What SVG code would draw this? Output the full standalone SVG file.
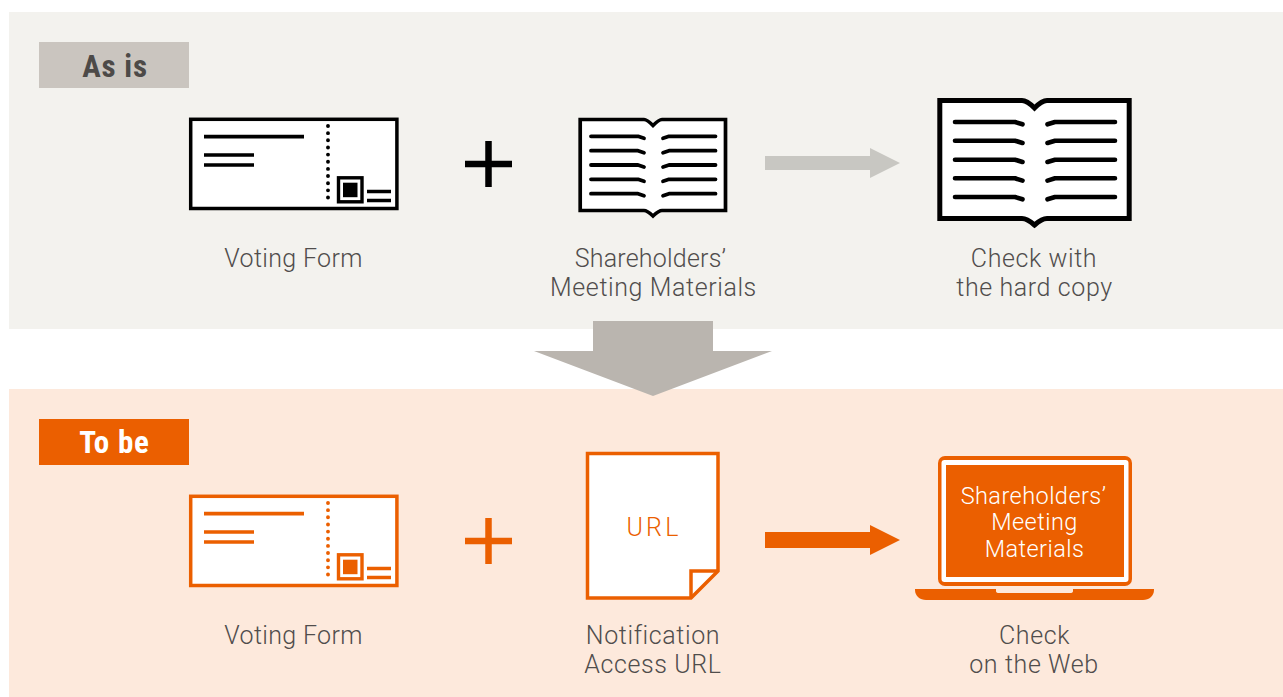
<svg xmlns="http://www.w3.org/2000/svg" width="1283" height="697" viewBox="0 0 1283 697">
<style>
text{font-family:"Roboto","Liberation Sans",sans-serif}
.lb{font-size:25px;font-weight:300;fill:#504d4c;text-anchor:middle;letter-spacing:.6px}
.vf{letter-spacing:.33px}
.sh{letter-spacing:.2px}
.sc{font-size:23.500px;font-weight:300;fill:#fff;text-anchor:middle;letter-spacing:.45px}
.tag{font-size:31px;font-weight:700;text-anchor:middle;font-stretch:condensed;letter-spacing:.8px}
.k{stroke:#000;fill:none}
.o{stroke:#eb5f00;fill:none}
.ln{stroke-linecap:round;stroke-linejoin:round;fill:none}
</style>
<defs>
<g id="form">
<rect x="190.700" y="119.300" width="206.200" height="89.200" fill="#fff" stroke-width="3.500"/>
<path d="M204 136.700H304M204 155H254M204 165H254M367 191.500H391M367 200.500H391" stroke-width="3.700"/>
<path d="M328 126V203" stroke-width="3.900" stroke-linecap="round" stroke-dasharray="0 7.150"/>
<rect x="338.500" y="177.800" width="23.500" height="24" stroke-width="3.400"/>
<rect x="343" y="182.700" width="14.500" height="14.500" stroke="none" fill="currentColor"/>
</g>
</defs>
<g id="panels">
<rect x="9" y="12" width="1274" height="317" fill="#f3f2ee"/>
<rect x="9" y="389" width="1274" height="308" fill="#fde9dc"/>
</g>
<g id="tag-as-is">
<rect x="39" y="42" width="150" height="46" fill="#cac5bf"/>
<text class="tag" x="115" y="77" fill="#4d4a48">As is</text>
</g>
<g id="tag-to-be">
<rect x="39" y="419" width="150" height="46" fill="#eb5f00"/>
<text class="tag" x="114.500" y="453" fill="#fff">To be</text>
</g>
<g id="connectors">
<path d="M593 321H713V351H772L653 396L534 351H593Z" fill="#bab5af"/>
<path d="M765 156H870V148L900 163L870 178V170H765Z" fill="#c8c7c2"/>
<path d="M765 532H870V525L900 540L870 555V548H765Z" fill="#eb5f00"/>
</g>
<g id="node-voting-form-1">
<use href="#form" class="k" color="#000"/>
<text class="lb vf" x="293.500" y="266.500">Voting Form</text>
</g>
<g id="plus-1"><path d="M465 164H512M488.500 141V187" stroke="#000" stroke-width="6.500" fill="none"/></g>
<g id="node-materials-1">
<path class="k" stroke-width="3.700" style="fill:#fff" d="M580.200 119.500H644Q647 119.500 653 125.500Q659 119.500 662 119.500H725.500V210.500H662Q659 210.500 653 216Q647 210.500 644 210.500H580.200Z"/>
<path class="k ln" stroke-width="3.800" d="M591 136.300H638L644 138.300M591 150.700H638L644 152.700M591 165H638L644 167M591 179.300H638L644 181.300M591 193.700H638L644 195.700M715.500 136.300H669L663 138.300M715.500 150.700H669L663 152.700M715.500 165H669L663 167M715.500 179.300H669L663 181.300M715.500 193.700H669L663 195.700"/>
<text class="lb sh" x="650.500" y="266.500">Shareholders’</text>
<text class="lb" x="653.500" y="295.500">Meeting Materials</text>
</g>
<g id="node-hardcopy">
<path class="k" stroke-width="5" style="fill:#fff" d="M939.800 100.500H1022Q1027 100.500 1034.500 108Q1042 100.500 1047 100.500H1129.200V218.500H1047Q1042 218.500 1034.500 225Q1027 218.500 1022 218.500H939.800Z"/>
<path class="k ln" stroke-width="4.600" d="M955 122H1015L1022.500 124.300M955 140.700H1015L1022.500 143M955 159.700H1015L1022.500 162M955 178.300H1015L1022.500 180.600M955 197H1015L1022.500 199.300M1115 122H1055L1047.500 124.300M1115 140.700H1055L1047.500 143M1115 159.700H1055L1047.500 162M1115 178.300H1055L1047.500 180.600M1115 197H1055L1047.500 199.300"/>
<text class="lb" x="1034" y="266.500">Check with</text>
<text class="lb" x="1034.500" y="295.500">the hard copy</text>
</g>
<g id="node-voting-form-2">
<g transform="translate(0 377)"><use href="#form" class="o" color="#eb5f00"/></g>
<text class="lb vf" x="293.500" y="643.500">Voting Form</text>
</g>
<g id="plus-2"><path d="M465 541H512M488.500 518V564" stroke="#eb5f00" stroke-width="6.500" fill="none"/></g>
<g id="node-url">
<path class="o" stroke-width="3.500" style="fill:#fff" d="M587.500 453.500H718V571L691 598H587.500Z"/>
<path class="o" stroke-width="3.500" d="M691 598V571H718"/>
<text x="654" y="536" text-anchor="middle" font-size="25" font-weight="300" letter-spacing="3.200" fill="#eb5f00">URL</text>
<text class="lb" x="653" y="643.500">Notification</text>
<text class="lb" x="653" y="672.500">Access URL</text>
</g>
<g id="node-web">
<rect x="938" y="456" width="194" height="130" rx="7" fill="#eb5f00"/>
<rect x="941.500" y="460" width="187" height="122" rx="3" fill="#fff"/>
<rect x="946" y="465" width="178" height="112" fill="#eb5f00"/>
<path d="M915 589H1154V590C1154 596 1149 600 1143 600H926C920 600 915 596 915 590Z" fill="#eb5f00"/>
<path d="M996 589H1073V591Q1073 593 1070 593H999Q996 593 996 591Z" fill="#fde9dc"/>
<text class="sc" x="1033.500" y="504">Shareholders’</text>
<text class="sc" x="1034.500" y="530">Meeting</text>
<text class="sc" x="1034.500" y="557">Materials</text>
<text class="lb" x="1034.500" y="643.500">Check</text>
<text class="lb" x="1034" y="672.500">on the Web</text>
</g>
</svg>
